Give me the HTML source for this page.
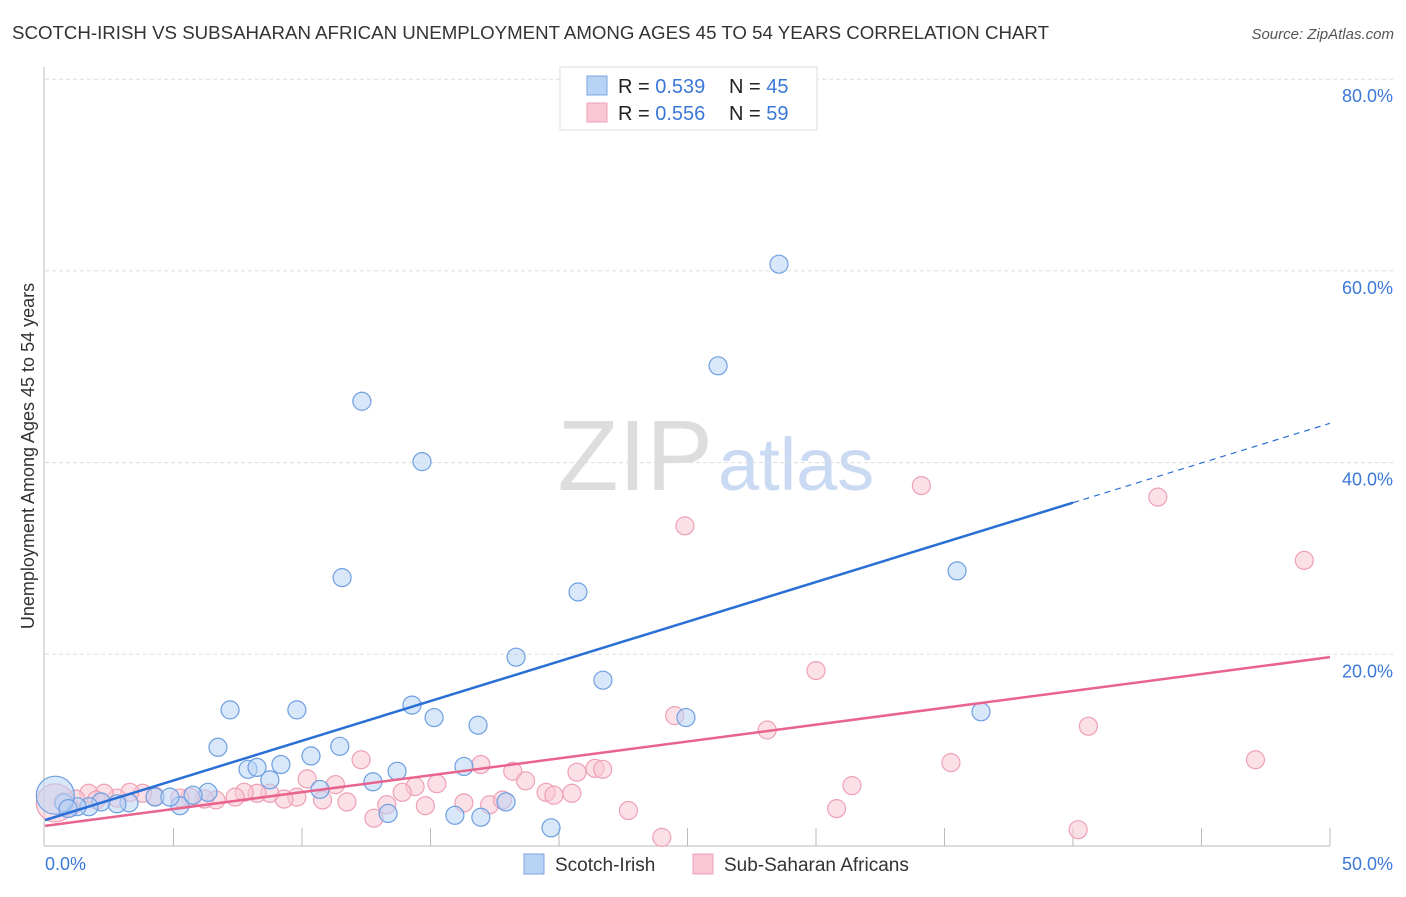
<!DOCTYPE html>
<html><head><meta charset="utf-8"><style>
body{margin:0;background:#fff;font-family:"Liberation Sans",sans-serif}
svg text{font-family:"Liberation Sans",sans-serif}
</style></head><body>
<svg id="chart" width="1406" height="892" xmlns="http://www.w3.org/2000/svg">
<text x="12" y="39" font-size="18" fill="#333" textLength="1037" lengthAdjust="spacingAndGlyphs">SCOTCH-IRISH VS SUBSAHARAN AFRICAN UNEMPLOYMENT AMONG AGES 45 TO 54 YEARS CORRELATION CHART</text>
<text x="1394" y="39" font-size="15" fill="#555" font-style="italic" text-anchor="end">Source: ZipAtlas.com</text>
<text x="713" y="490" font-size="100" fill="#ddd" font-family="Liberation Serif" text-anchor="end">ZIP</text>
<text x="718" y="490" font-size="74" fill="#c9daf2">atlas</text>
<g id="grid"></g>
<g id="axes"></g>
<g id="marks"></g>
<text transform="translate(34,456) rotate(-90)" font-size="18" fill="#333" text-anchor="middle">Unemployment Among Ages 45 to 54 years</text>
<text x="45" y="870" font-size="18" fill="#3b78d8">0.0%</text>
<text x="1393" y="870" font-size="18" fill="#3b78d8" text-anchor="end">50.0%</text>
<g>
<rect x="560" y="67" width="257" height="63" fill="#fff" stroke="#ddd"/>
<rect x="587" y="76" width="20" height="19" fill="#b9d3f5" stroke="#7aa5e0"/>
<rect x="587" y="103" width="20" height="19" fill="#f9c6d4" stroke="#eea0b6"/>
<text x="618" y="93" font-size="20" fill="#222">R = <tspan fill="#3b78d8">0.539</tspan></text>
<text x="729" y="93" font-size="20" fill="#222">N = <tspan fill="#3b78d8">45</tspan></text>
<text x="618" y="120" font-size="20" fill="#222">R = <tspan fill="#3b78d8">0.556</tspan></text>
<text x="729" y="120" font-size="20" fill="#222">N = <tspan fill="#3b78d8">59</tspan></text>
</g>
<g>
<rect x="524" y="854" width="20" height="20" fill="#b9d3f5" stroke="#7aa5e0"/>
<text x="555" y="871" font-size="19" fill="#333">Scotch-Irish</text>
<rect x="693" y="854" width="20" height="20" fill="#f9c6d4" stroke="#eea0b6"/>
<text x="724" y="871" font-size="19" fill="#333">Sub-Saharan Africans</text>
</g>
</svg>
<script>
const yTicks=[20,40,60,80];
const xTicks=[0,5,10,15,20,25,30,35,40,45,50];
const blueX=[28.56,26.19,12.33,14.67,11.56,20.74,35.49,18.33,21.71,7.2,9.8,14.28,15.14,16.85,24.94,36.42,6.73,10.35,11.47,7.9,8.25,9.18,13.7,16.3,12.76,8.75,10.7,6.34,17.94,13.35,15.95,16.96,19.69,5.25,4.28,4.86,5.76,3.27,2.8,2.18,1.71,1.25,0.74,0.4,0.9];
const blueY=[60.7,50.1,46.4,40.1,28.0,26.5,28.7,19.7,17.3,14.2,14.2,14.7,13.4,12.6,13.4,14.0,10.3,9.4,10.4,8.0,8.2,8.5,7.8,8.3,6.7,6.9,5.9,5.6,4.6,3.4,3.2,3.0,1.9,4.2,5.1,5.1,5.3,4.5,4.4,4.6,4.1,4.1,4.5,5.3,3.9];
const pinkX=[43.3,34.1,24.9,49.0,30.0,24.5,28.1,40.6,35.25,47.1,31.4,30.8,40.2,24.0,22.7,12.3,16.96,18.2,18.7,20.7,21.4,21.7,19.5,19.8,20.5,15.25,14.4,13.9,16.3,17.3,17.8,14.8,13.3,12.8,11.3,10.2,11.75,10.8,9.8,9.3,8.75,8.25,7.75,7.4,6.65,6.2,5.64,5.25,4.28,3.8,3.3,2.8,2.3,1.7,1.2,0.7,0.4,1.0,2.0];
const pinkY=[36.4,37.6,33.4,29.8,18.3,13.6,12.1,12.5,8.7,9.0,6.3,3.9,1.7,0.9,3.7,9.0,8.5,7.8,6.8,7.7,8.1,8.0,5.6,5.3,5.5,6.5,6.2,5.6,4.5,4.3,4.8,4.2,4.3,2.9,6.4,7.0,4.6,4.8,5.1,4.9,5.5,5.5,5.6,5.1,4.8,4.9,5.1,5.0,5.2,5.5,5.6,5.0,5.5,5.5,4.9,4.6,4.5,4.0,4.8];
const blueTrend=[2.7,44.1];
const pinkTrend=[2.1,19.7];
const X=v=>45+v*25.7, Y=v=>846-v*9.585;
const NS='http://www.w3.org/2000/svg';
function mk(t,a,p){const e=document.createElementNS(NS,t);for(const k in a)e.setAttribute(k,a[k]);p.appendChild(e);return e;}
const grid=document.getElementById('grid'),axes=document.getElementById('axes'),marks=document.getElementById('marks');
yTicks.forEach(t=>{
const l=mk('line',{x1:45,x2:1393,y1:Y(t),y2:Y(t),stroke:'#ddd','stroke-dasharray':'4,3'},grid);


const tx=mk('text',{x:1393,y:Y(t)+23,'font-size':18,fill:'#3b78d8','text-anchor':'end'},grid);
tx.textContent=t.toFixed(1)+'%';


});
const ay=mk('line',{x1:44,x2:44,y1:67,y2:846,stroke:'#bbb'},axes);


const ax=mk('line',{x1:44,x2:1330,y1:846,y2:846,stroke:'#bbb'},axes);


xTicks.slice(1).forEach(t=>{
const l=mk('line',{x1:X(t),x2:X(t),y1:828,y2:846,stroke:'#bbb'},axes);


});
function pts(xs,ys,fill,stroke,name,big){
xs.forEach((x,i)=>{
const r=(i===big)?19:9;
const c=mk('circle',{cx:X(x),cy:Y(ys[i]),r:r,fill:fill,'fill-opacity':0.55,stroke:stroke,'stroke-width':1.2},marks);


});
}
pts(pinkX,pinkY,'#f9c6d4','#eea0b6','pink-point',56);
pts(blueX,blueY,'#b9d3f5','#6e9fe0','blue-point',43);
const bl=mk('line',{x1:X(0),y1:Y(blueTrend[0]),x2:X(40),y2:Y(blueTrend[0]+(blueTrend[1]-blueTrend[0])*0.8),stroke:'#2a6fd6','stroke-width':2.5},marks);


const bd=mk('line',{x1:X(40),y1:Y(blueTrend[0]+(blueTrend[1]-blueTrend[0])*0.8),x2:X(50),y2:Y(blueTrend[1]),stroke:'#2a6fd6','stroke-width':1.2,'stroke-dasharray':'6,5'},marks);


const pl=mk('line',{x1:X(0),y1:Y(pinkTrend[0]),x2:X(50),y2:Y(pinkTrend[1]),stroke:'#e8638e','stroke-width':2.5},marks);


</script>
</body></html>
